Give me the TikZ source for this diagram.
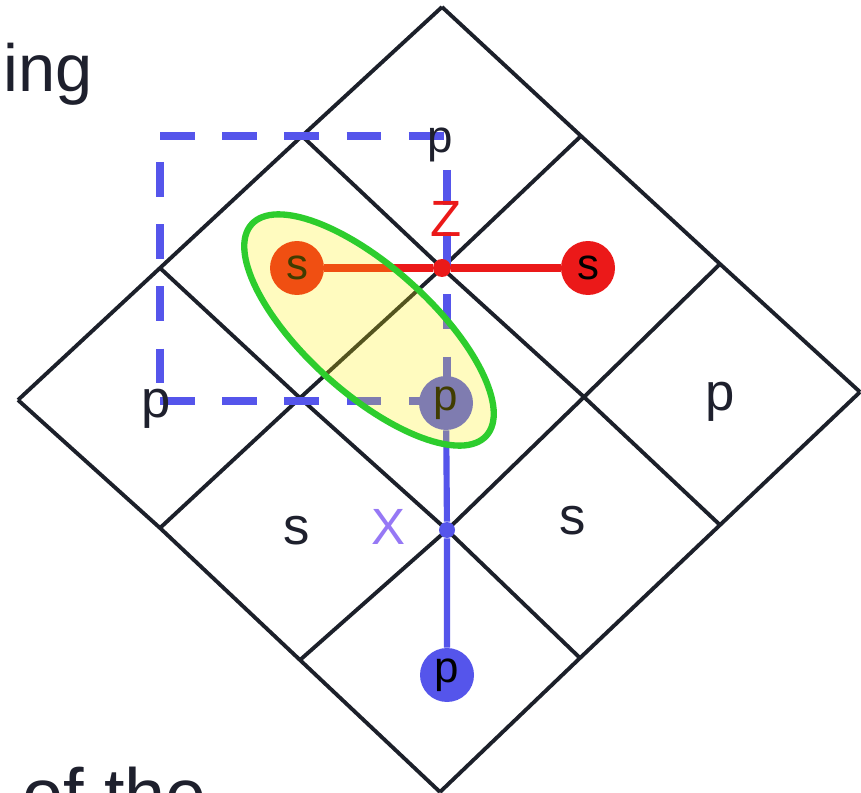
\documentclass[tikz,border=0pt]{standalone}
\usepackage{fontspec}
\setmainfont{Liberation Sans}
\begin{document}
\begin{tikzpicture}[x=0.02cm,y=-0.02cm]
\definecolor{gridc}{RGB}{28,32,42}
\definecolor{blueL}{RGB}{85,85,235}
\definecolor{redL}{RGB}{235,25,25}
\definecolor{greenL}{RGB}{45,205,45}
\definecolor{xcol}{RGB}{150,120,245}
\definecolor{textc}{RGB}{30,32,45}
\tikzset{
  gridline/.style={draw=gridc, line width=2.2pt, line join=miter},
  bluedash/.style={draw=blueL, line width=4pt, dash pattern=on 19.8pt off 15.6pt},
  blueline/.style={draw=blueL, line width=3.5pt},
  redline/.style={draw=redL, line width=4.5pt},
  celltext/.style={font=\fontsize{30}{36}\selectfont, text=textc, inner sep=0pt, anchor=base},
  atom/.style={circle, minimum size=1.08cm, inner sep=0pt, font=\fontsize{25}{30}\selectfont, text=black},
  greenell/.style={draw=greenL, line width=3.6pt, fill=yellow, fill opacity=0.25, draw opacity=1},
}
\useasboundingbox (0,0) rectangle (861,793);
\fill[white] (0,0) rectangle (861,793);
% grid vertices v(i,j): i toward left corner, j toward right corner
\coordinate (v00) at (442,7);
\coordinate (v01) at (581,136);
\coordinate (v02) at (720,264);
\coordinate (v03) at (860,392);
\coordinate (v10) at (302,136);
\coordinate (v11) at (442,268);
\coordinate (v12) at (584,397);
\coordinate (v13) at (720,525);
\coordinate (v20) at (160,268);
\coordinate (v21) at (300,398);
\coordinate (v22) at (447,530);
\coordinate (v23) at (580,658);
\coordinate (v30) at (18,400);
\coordinate (v31) at (160,528);
\coordinate (v32) at (300,660);
\coordinate (v33) at (440,792);
\foreach \i in {0,1,2,3}{
  \draw[gridline] (v\i0) -- (v\i1) -- (v\i2) -- (v\i3);
  \draw[gridline] (v0\i) -- (v1\i) -- (v2\i) -- (v3\i);
}
% dashed blue rectangle
\coordinate (rTL) at (160,136);
\coordinate (rTR) at (450,136);
\coordinate (rL0) at (160,162);
\coordinate (rBL) at (160,401);
\coordinate (rBR) at (447,401);
\coordinate (rR0) at (447,170);
\coordinate (rR1) at (447,380);
\draw[bluedash] (rTL) -- (rTR);
\draw[bluedash] (rL0) -- (rBL);
\draw[bluedash] (rBL) -- (rBR);
\draw[bluedash] (rR0) -- (rR1);
% atoms
\node[atom, fill=redL] (sO) at (297,268) {s};
\node[atom, fill=redL] (sR) at (588,268) {s};
\node[atom, fill=blueL] (pG) at (446,403) {p};
\node[atom, fill=blueL] (pB) at (447,675) {p};
\node[circle, fill=redL, minimum size=0.36cm, inner sep=0pt] (zdot) at (442,268) {};
\node[circle, fill=blueL, minimum size=0.32cm, inner sep=0pt] (xdot) at (447,530) {};
\draw[redline] (sO) -- (zdot) -- (sR);
\draw[blueline] (pG) -- (xdot) -- (pB);
% labels
\node[celltext, font=\fontsize{26}{30}\selectfont] (pT) at (440,153) {p};
\node[celltext] (pL) at (156,418) {p};
\node[celltext] (pR) at (720,410) {p};
\node[celltext] (sLL) at (297,544) {s};
\node[celltext] (sLR) at (573,534) {s};
\node[font=\fontsize{29}{34}\selectfont, text=xcol, inner sep=0pt] (lx) at (388,527) {X};
\node[font=\fontsize{29}{34}\selectfont, text=redL, inner sep=0pt] (lz) at (446,219) {Z};
% overlay ellipse
\draw[greenell, rotate around={-42:(369,330)}] (369,330) ellipse [x radius=3.16cm, y radius=1.26cm];
% cut-off text
\node[font=\fontsize{38}{44}\selectfont, text=textc, inner sep=0pt, anchor=base west] (ing) at (3,92) {ing};
\node[font=\fontsize{42}{48}\selectfont, text=textc, inner sep=0pt, anchor=base west] (ofthe) at (22,820) {of the};
\end{tikzpicture}
\end{document}
